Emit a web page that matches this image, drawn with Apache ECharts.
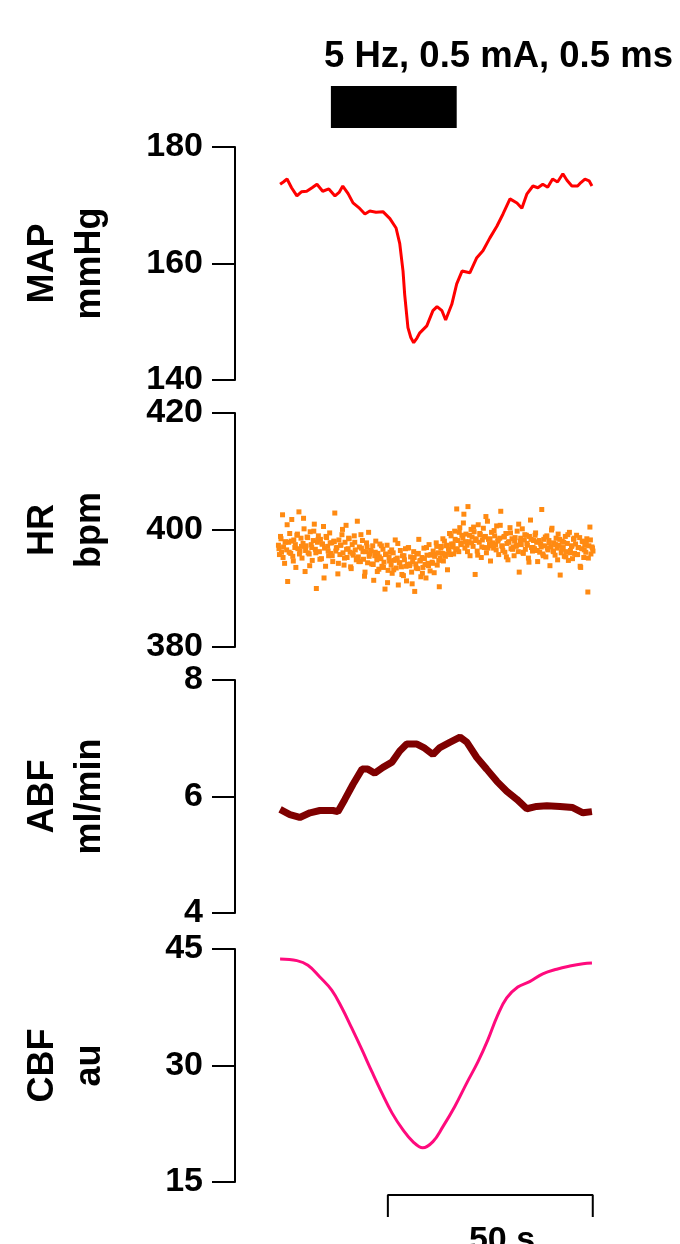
<!DOCTYPE html>
<html>
<head>
<meta charset="utf-8">
<script src="https://cdn.jsdelivr.net/npm/echarts@6/dist/echarts.min.js"></script>
<style>html,body{margin:0;padding:0;background:#fff;}#c{width:680px;height:1244px;}</style>
</head>
<body>
<div id="c"></div>
<script>
// ---- Data (time in s, 0 = stimulation onset) ----
const stimLabel = '5 Hz, 0.5 mA, 0.5 ms';
const stimOn = 0, stimOff = 30.7;
const scaleBarStart = 13.9, scaleBarEnd = 63.9, scaleBarLabel = '50 s';

const mapTime = [-12.4,-11.6,-10.7,-9.6,-8.3,-7.2,-5.9,-4.6,-3.4,-2.0,-0.5,1.0,2.0,2.9,4.2,5.4,6.8,8.3,9.5,11.0,12.7,14.4,15.9,16.8,17.6,18.0,18.8,19.5,20.2,21.0,21.7,23.4,24.9,25.9,27.1,28.0,29.5,30.7,32.0,33.9,35.6,37.1,38.8,40.5,42.0,43.7,45.4,46.6,47.8,49.3,50.5,51.7,52.9,54.1,55.3,56.6,57.6,58.8,60.2,61.0,62.0,63.0,63.7];
const mapVal  = [173.6,174.0,174.5,173.0,171.6,172.3,172.4,173.0,173.6,172.4,172.8,171.6,172.2,173.3,172.0,170.4,169.6,168.5,169.0,168.8,168.9,167.7,166.1,163.4,158.7,154.7,149.0,147.3,146.4,147.2,148.1,149.3,151.9,152.6,151.9,150.3,153.0,156.5,158.7,158.4,161.0,162.2,164.4,166.4,168.5,171.1,170.4,169.5,171.9,173.3,173.0,173.6,173.1,174.5,174.0,175.4,174.3,173.3,173.3,173.9,174.5,174.2,173.3];

// HR beats, sampled set A
const hrStart = -12.8, hrStep = 0.25;
const hrVal = [
397.4,395.8,398.9,396.2,402.6,397.1,394.3,398.0,396.6,391.2,
397.9,399.4,396.0,401.8,395.5,398.3,397.0,393.6,399.1,396.8,
403.1,396.4,398.6,395.2,397.7,400.2,392.9,397.3,398.8,396.1,
395.9,399.7,397.5,394.8,398.2,401.0,396.7,390.0,397.9,399.0,
396.3,398.4,395.1,397.6,400.6,396.9,393.8,398.7,397.2,395.6,
399.5,396.0,397.8,394.6,398.1,402.9,396.4,397.0,392.5,398.3,
395.8,397.4,399.2,396.1,394.0,397.9,400.8,395.3,396.8,398.5,
396.2,393.4,397.5,395.7,399.0,396.6,394.9,401.5,395.4,397.1,
394.6,396.9,398.2,395.0,392.1,396.3,397.8,394.4,399.6,395.9,
396.5,394.2,397.3,391.4,395.6,398.1,394.9,396.0,393.3,397.6,
395.1,393.8,396.7,394.5,389.9,395.9,397.4,393.1,395.3,396.2,
394.0,392.6,396.1,394.8,398.3,393.5,395.2,390.6,394.4,396.5,
393.7,395.6,392.2,394.9,396.8,391.3,394.1,397.0,393.9,395.4,
392.8,394.6,396.3,389.5,394.2,395.9,393.4,398.4,394.7,392.0,
395.3,393.6,396.9,394.1,391.8,395.7,394.3,397.5,393.0,395.8,
394.5,396.4,392.7,395.9,397.8,394.0,396.1,390.3,395.2,397.2,
396.0,394.7,398.1,395.5,397.3,393.2,396.8,399.4,395.8,397.6,
397.1,395.9,399.8,396.6,403.6,398.2,396.3,400.4,397.7,399.1,
398.6,402.7,396.9,399.3,397.4,404.0,398.0,395.6,400.1,398.8,
397.2,399.7,392.4,398.5,396.4,400.9,397.9,399.2,395.3,398.3,
400.3,397.0,398.9,396.1,401.5,398.4,397.6,394.7,399.6,397.8,
396.9,399.0,397.5,400.7,398.1,395.8,398.6,403.2,397.3,396.5,
398.8,396.2,399.4,397.7,394.9,398.0,400.4,396.8,398.5,397.1,
395.6,398.7,397.2,399.8,396.3,392.8,398.1,397.5,400.2,396.0,
398.3,396.7,399.1,397.4,395.2,398.9,401.7,397.0,396.4,398.2,
396.8,399.5,397.9,394.6,398.0,396.2,397.6,403.5,395.9,398.4,
397.3,395.4,399.0,396.6,398.2,393.9,397.1,400.3,396.4,397.8,
395.7,398.6,396.9,399.3,397.4,392.3,396.1,398.1,397.0,395.5,
398.9,396.3,397.7,394.8,399.6,396.5,397.2,395.1,398.4,396.0,
397.6,399.1,395.8,397.0,398.7,393.6,396.8,398.0,395.3,397.4,
396.2,398.5,389.4,397.3,400.5,395.9,397.1,396.4];

// HR beats, sampled set B (interleaved)
const hrStartB = -12.675, hrStepB = 0.5;
const hrValB = [
396.8,398.5,395.3,397.9,400.9,396.2,398.1,394.7,397.5,399.3,395.9,397.2,402.0,396.5,398.7,393.9,397.0,399.8,396.1,398.3,395.0,397.6,391.8,398.9,396.4,397.8,
395.6,398.0,396.9,394.3,397.4,400.1,395.2,396.7,398.6,393.7,396.0,397.9,395.1,394.6,399.2,396.3,392.8,397.1,395.5,396.4,
394.1,396.2,392.9,395.4,397.3,393.6,395.8,391.0,394.7,396.6,393.2,395.0,397.7,394.4,392.4,395.6,393.8,396.9,394.2,390.8,395.3,393.5,396.0,394.8,392.6,395.1,397.0,393.9,395.7,394.3,
395.5,397.2,394.8,396.9,398.5,395.9,397.4,396.2,399.0,397.6,
398.4,396.8,399.6,397.5,401.2,398.0,396.3,399.1,397.8,400.5,398.2,395.7,399.4,397.1,398.8,402.3,396.9,398.5,397.3,399.9,396.6,398.3,400.8,397.2,398.9,395.4,397.9,399.5,396.7,398.1,397.4,401.0,398.6,396.2,399.2,397.7,394.5,398.4,397.0,399.1,
396.5,398.2,397.1,395.6,398.8,396.9,397.8,400.0,396.3,397.5,394.9,398.4,396.7,397.9,395.4,399.2,396.1,397.3,398.6,395.8,397.0,393.8,398.1,396.6,397.7,395.2,398.3,396.9];

const abfTime = [-12.4,-10.0,-7.6,-5.1,-2.7,0.5,1.7,3.4,5.4,7.6,9.0,10.7,12.7,14.9,16.8,18.5,21.0,22.9,24.9,26.6,29.0,31.5,33.2,35.6,38.0,40.5,42.9,45.4,47.8,50.2,52.7,55.9,59.0,61.5,63.7];
const abfVal  = [5.78,5.69,5.64,5.72,5.76,5.76,5.74,5.95,6.21,6.47,6.47,6.40,6.50,6.59,6.78,6.90,6.90,6.83,6.72,6.84,6.93,7.02,6.93,6.67,6.47,6.26,6.09,5.95,5.79,5.83,5.84,5.83,5.81,5.72,5.74];

const cbfTime = [-12.4,-8.3,-5.6,-2.7,0.2,2.7,5.1,7.6,10.0,12.4,14.9,17.6,20.0,22.4,24.9,27.3,30.2,33.2,35.9,38.3,40.7,42.9,45.6,48.5,51.7,55.1,58.3,61.5,63.7];
const cbfVal  = [43.7,43.5,42.9,41.4,39.7,37.4,34.8,32.0,29.2,26.5,23.9,21.7,20.2,19.4,20.2,22.1,24.7,27.8,30.5,33.3,36.5,38.7,40.1,40.8,41.8,42.4,42.8,43.1,43.2];

const panels = [
  {name: 'MAP\nmmHg', min: 140, max: 180, interval: 20},
  {name: 'HR\nbpm', min: 380, max: 420, interval: 20},
  {name: 'ABF\nml/min', min: 4, max: 8, interval: 2},
  {name: 'CBF\nau', min: 15, max: 45, interval: 15}
];

// ---- Chart ----
const FONT = '"Liberation Sans", Arial, sans-serif';
const pair = (t, v) => t.map((x, i) => [x, v[i]]);
const hrData = hrVal.map((v, i) => [hrStart + i * hrStep, v])
  .concat(hrValB.map((v, i) => [hrStartB + i * hrStepB, v]));

const gridTops = [86, 147, 413, 680, 949, 1195];
const gridHeights = [42, 233, 234, 233, 233, 22];
const grids = gridTops.map((t, i) => ({left: 235, width: 359, top: t, height: gridHeights[i]}));
const xAxes = grids.map((g, i) => ({type: 'value', gridIndex: i, min: -23.4, max: 64.2, show: false}));
const yAxes = [{type: 'value', gridIndex: 0, min: 0, max: 1, show: false}];
panels.forEach((p, k) => {
  yAxes.push({
    type: 'value', gridIndex: k + 1, min: p.min, max: p.max, interval: p.interval,
    axisLine: {show: true, onZero: false, lineStyle: {color: '#000', width: 2}},
    axisTick: {show: true, inside: false, length: 23, lineStyle: {color: '#000', width: 2}},
    axisLabel: {show: true, color: '#000', fontFamily: FONT, fontWeight: 'bold', fontSize: 34, margin: 32},
    splitLine: {show: false},
    name: p.name, nameLocation: 'middle', nameRotate: 90, nameGap: 121,
    nameTextStyle: {color: '#000', fontFamily: FONT, fontWeight: 'bold', fontSize: 36, lineHeight: 47}
  });
});
yAxes.push({type: 'value', gridIndex: 5, min: 0, max: 1, show: false});

const option = {
  animation: false,
  backgroundColor: '#fff',
  title: [
    {text: stimLabel, left: 319, top: 33, padding: 5, textStyle: {fontFamily: FONT, fontWeight: 'bold', fontSize: 36.5, color: '#000'}},
    {text: scaleBarLabel, left: 497, top: 1219, textAlign: 'center', textStyle: {fontFamily: FONT, fontWeight: 'bold', fontSize: 34, color: '#000'}}
  ],
  grid: grids,
  xAxis: xAxes,
  yAxis: yAxes,
  series: [
    {type: 'custom', xAxisIndex: 0, yAxisIndex: 0, data: [[stimOn, stimOff]],
     renderItem: (params, api) => {
       const p0 = api.coord([api.value(0), 1]);
       const p1 = api.coord([api.value(1), 0]);
       return {type: 'rect', shape: {x: p0[0], y: p0[1], width: p1[0] - p0[0], height: p1[1] - p0[1]}, style: {fill: '#000'}};
     }},
    {type: 'line', xAxisIndex: 1, yAxisIndex: 1, data: pair(mapTime, mapVal), symbol: 'none',
     lineStyle: {color: '#ff0000', width: 3}},
    {type: 'scatter', xAxisIndex: 2, yAxisIndex: 2, data: hrData, symbol: 'rect', symbolSize: 5,
     itemStyle: {color: '#ff8a12', opacity: 1}},
    {type: 'line', xAxisIndex: 3, yAxisIndex: 3, data: pair(abfTime, abfVal), symbol: 'none',
     lineStyle: {color: '#7f0000', width: 7}},
    {type: 'line', xAxisIndex: 4, yAxisIndex: 4, data: pair(cbfTime, cbfVal), symbol: 'none', smooth: 0.4,
     lineStyle: {color: '#ff0a7d', width: 3}},
    {type: 'line', xAxisIndex: 5, yAxisIndex: 5,
     data: [[scaleBarStart, 0], [scaleBarStart, 1], [scaleBarEnd, 1], [scaleBarEnd, 0]],
     symbol: 'none', lineStyle: {color: '#000', width: 2}}
  ]
};
echarts.init(document.getElementById('c'), null, {renderer: 'canvas'}).setOption(option);
</script>
</body>
</html>
